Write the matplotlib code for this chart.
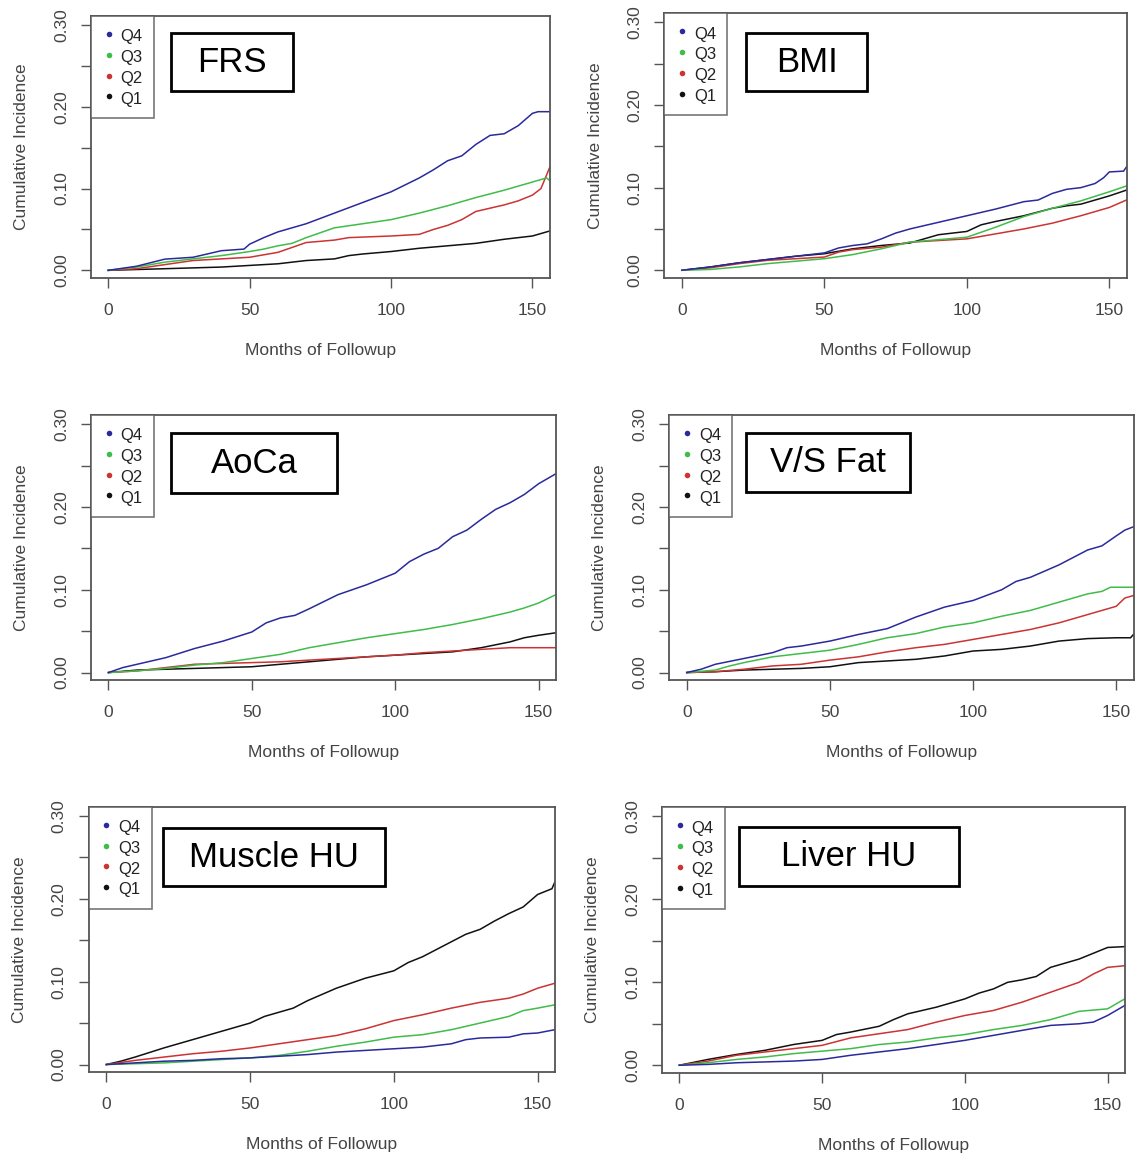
import matplotlib
matplotlib.use("Agg")
import matplotlib.pyplot as plt
from matplotlib.lines import Line2D
from matplotlib.patches import Rectangle

plt.rcParams['font.family'] = ['Liberation Sans', 'DejaVu Sans']

# ---------------- data (months, cumulative incidence) ----------------
FRS_Q4_T = [0, 10, 20, 30, 40, 48, 50, 55, 60, 70, 80, 90, 100, 110, 115, 120, 125, 130, 135, 140, 145, 150, 152, 156]
FRS_Q4 = [0, 0.005, 0.0137, 0.016, 0.024, 0.026, 0.032, 0.04, 0.047, 0.057, 0.07, 0.083, 0.096, 0.113, 0.123, 0.134, 0.14, 0.154, 0.165, 0.167, 0.177, 0.192, 0.194, 0.194]
FRS_Q3_T = [0, 10, 20, 30, 40, 50, 55, 60, 65, 70, 75, 80, 90, 100, 110, 120, 130, 140, 150, 155, 156]
FRS_Q3 = [0, 0.004, 0.01, 0.014, 0.018, 0.023, 0.026, 0.03, 0.033, 0.04, 0.046, 0.052, 0.057, 0.062, 0.07, 0.079, 0.089, 0.098, 0.108, 0.113, 0.11]
FRS_Q2_T = [0, 10, 20, 30, 40, 50, 60, 65, 70, 80, 85, 100, 110, 115, 120, 125, 130, 135, 140, 145, 150, 153, 156]
FRS_Q2 = [0, 0.002, 0.007, 0.012, 0.014, 0.016, 0.022, 0.028, 0.034, 0.037, 0.04, 0.042, 0.044, 0.05, 0.055, 0.062, 0.072, 0.076, 0.08, 0.085, 0.092, 0.1, 0.125]
FRS_Q1_T = [0, 10, 20, 30, 40, 50, 60, 70, 80, 85, 90, 100, 110, 120, 130, 140, 150, 156]
FRS_Q1 = [0, 0.001, 0.002, 0.003, 0.004, 0.006, 0.008, 0.012, 0.014, 0.018, 0.02, 0.023, 0.027, 0.03, 0.033, 0.038, 0.042, 0.048]

BMI_Q4_T = [0, 10, 20, 30, 40, 50, 55, 60, 65, 70, 75, 80, 90, 100, 110, 120, 125, 130, 135, 140, 145, 148, 150, 155, 156]
BMI_Q4 = [0, 0.004, 0.009, 0.013, 0.017, 0.021, 0.027, 0.03, 0.032, 0.038, 0.045, 0.05, 0.058, 0.066, 0.074, 0.083, 0.085, 0.093, 0.098, 0.1, 0.105, 0.112, 0.119, 0.12, 0.125]
BMI_Q3_T = [0, 10, 20, 30, 40, 50, 60, 70, 80, 90, 100, 110, 120, 130, 140, 150, 156]
BMI_Q3 = [0, 0.001, 0.004, 0.008, 0.011, 0.014, 0.019, 0.026, 0.034, 0.037, 0.04, 0.052, 0.065, 0.075, 0.084, 0.095, 0.102]
BMI_Q2_T = [0, 10, 20, 30, 40, 50, 55, 60, 70, 80, 90, 100, 110, 120, 130, 140, 150, 156]
BMI_Q2 = [0, 0.003, 0.008, 0.012, 0.014, 0.016, 0.022, 0.025, 0.028, 0.034, 0.036, 0.038, 0.044, 0.05, 0.057, 0.066, 0.076, 0.085]
BMI_Q1_T = [0, 10, 20, 30, 40, 50, 55, 60, 65, 70, 80, 85, 90, 100, 105, 110, 120, 130, 135, 140, 150, 156]
BMI_Q1 = [0, 0.004, 0.009, 0.013, 0.017, 0.02, 0.023, 0.026, 0.028, 0.03, 0.033, 0.038, 0.043, 0.047, 0.055, 0.059, 0.066, 0.075, 0.078, 0.08, 0.09, 0.097]

AOCA_Q4_T = [0, 5, 10, 20, 30, 40, 50, 55, 60, 65, 70, 80, 90, 100, 105, 110, 115, 120, 125, 130, 135, 140, 145, 150, 156]
AOCA_Q4 = [0, 0.006, 0.01, 0.018, 0.029, 0.038, 0.049, 0.06, 0.066, 0.069, 0.077, 0.094, 0.106, 0.12, 0.134, 0.143, 0.15, 0.164, 0.172, 0.185, 0.197, 0.205, 0.215, 0.228, 0.24]
AOCA_Q3_T = [0, 10, 20, 30, 40, 50, 60, 70, 80, 90, 100, 110, 120, 130, 140, 145, 150, 156]
AOCA_Q3 = [0, 0.002, 0.005, 0.009, 0.012, 0.017, 0.022, 0.03, 0.036, 0.042, 0.047, 0.052, 0.058, 0.065, 0.073, 0.078, 0.084, 0.094]
AOCA_Q2_T = [0, 10, 20, 30, 40, 50, 60, 70, 80, 90, 100, 110, 120, 130, 140, 156]
AOCA_Q2 = [0, 0.002, 0.006, 0.01, 0.011, 0.012, 0.013, 0.015, 0.017, 0.019, 0.021, 0.024, 0.026, 0.028, 0.03, 0.03]
AOCA_Q1_T = [0, 10, 20, 30, 40, 50, 60, 70, 80, 90, 100, 110, 120, 130, 140, 145, 150, 156]
AOCA_Q1 = [0, 0.003, 0.004, 0.005, 0.006, 0.007, 0.01, 0.013, 0.016, 0.019, 0.021, 0.023, 0.025, 0.03, 0.037, 0.042, 0.045, 0.048]

VSF_Q4_T = [0, 5, 10, 20, 30, 35, 40, 50, 60, 70, 80, 90, 100, 110, 115, 120, 130, 140, 145, 150, 153, 156]
VSF_Q4 = [0, 0.004, 0.01, 0.017, 0.024, 0.03, 0.032, 0.038, 0.046, 0.053, 0.067, 0.079, 0.087, 0.1, 0.11, 0.115, 0.13, 0.148, 0.153, 0.165, 0.172, 0.176]
VSF_Q3_T = [0, 10, 15, 20, 30, 40, 50, 60, 70, 80, 90, 100, 110, 120, 130, 140, 145, 148, 156]
VSF_Q3 = [0, 0.003, 0.008, 0.012, 0.019, 0.023, 0.027, 0.034, 0.042, 0.047, 0.055, 0.06, 0.068, 0.075, 0.085, 0.095, 0.098, 0.103, 0.103]
VSF_Q2_T = [0, 10, 20, 30, 40, 50, 60, 70, 80, 90, 100, 110, 120, 130, 140, 145, 150, 153, 156]
VSF_Q2 = [0, 0.001, 0.004, 0.008, 0.01, 0.015, 0.019, 0.025, 0.03, 0.034, 0.04, 0.046, 0.052, 0.06, 0.07, 0.075, 0.08, 0.09, 0.093]
VSF_Q1_T = [0, 10, 20, 30, 40, 50, 60, 70, 80, 90, 100, 110, 120, 130, 140, 150, 155, 156]
VSF_Q1 = [0, 0.001, 0.003, 0.004, 0.005, 0.007, 0.012, 0.014, 0.016, 0.02, 0.026, 0.028, 0.032, 0.038, 0.041, 0.042, 0.042, 0.046]

MUS_Q4_T = [0, 10, 20, 30, 40, 50, 60, 70, 80, 90, 100, 110, 120, 125, 130, 140, 145, 150, 156]
MUS_Q4 = [0, 0.002, 0.004, 0.005, 0.007, 0.008, 0.01, 0.012, 0.015, 0.017, 0.019, 0.021, 0.025, 0.03, 0.032, 0.033, 0.037, 0.038, 0.042]
MUS_Q3_T = [0, 10, 20, 30, 40, 50, 60, 70, 80, 90, 100, 110, 120, 130, 140, 145, 150, 156]
MUS_Q3 = [0, 0.001, 0.002, 0.004, 0.006, 0.008, 0.011, 0.016, 0.022, 0.027, 0.033, 0.036, 0.042, 0.05, 0.058, 0.065, 0.068, 0.072]
MUS_Q2_T = [0, 10, 20, 30, 40, 50, 60, 70, 80, 90, 100, 110, 120, 130, 140, 145, 150, 156]
MUS_Q2 = [0, 0.005, 0.009, 0.013, 0.016, 0.02, 0.025, 0.03, 0.035, 0.043, 0.053, 0.06, 0.068, 0.075, 0.08, 0.085, 0.092, 0.098]
MUS_Q1_T = [0, 5, 10, 20, 30, 40, 50, 55, 60, 65, 70, 80, 90, 100, 105, 110, 120, 125, 130, 135, 140, 145, 150, 155, 156]
MUS_Q1 = [0, 0.004, 0.009, 0.02, 0.03, 0.04, 0.05, 0.058, 0.063, 0.068, 0.077, 0.092, 0.104, 0.113, 0.123, 0.13, 0.148, 0.157, 0.163, 0.173, 0.182, 0.19, 0.205, 0.212, 0.22]

LIV_Q4_T = [0, 10, 20, 30, 40, 50, 60, 70, 80, 90, 100, 110, 120, 130, 140, 145, 150, 156]
LIV_Q4 = [0, 0.001, 0.003, 0.004, 0.005, 0.007, 0.012, 0.016, 0.02, 0.025, 0.03, 0.036, 0.042, 0.048, 0.05, 0.052, 0.06, 0.072]
LIV_Q3_T = [0, 10, 20, 30, 40, 50, 60, 70, 80, 90, 100, 110, 120, 130, 140, 150, 156]
LIV_Q3 = [0, 0.003, 0.007, 0.01, 0.014, 0.017, 0.02, 0.025, 0.028, 0.033, 0.037, 0.043, 0.048, 0.055, 0.065, 0.068, 0.08]
LIV_Q2_T = [0, 10, 20, 30, 40, 50, 60, 70, 80, 90, 100, 110, 120, 130, 140, 145, 150, 156]
LIV_Q2 = [0, 0.005, 0.012, 0.016, 0.02, 0.024, 0.033, 0.038, 0.043, 0.052, 0.06, 0.066, 0.076, 0.088, 0.1, 0.11, 0.118, 0.12]
LIV_Q1_T = [0, 10, 20, 30, 40, 50, 55, 60, 70, 75, 80, 90, 100, 105, 110, 115, 120, 125, 130, 140, 145, 150, 156]
LIV_Q1 = [0, 0.007, 0.013, 0.018, 0.025, 0.03, 0.037, 0.04, 0.047, 0.055, 0.062, 0.07, 0.08, 0.087, 0.092, 0.1, 0.103, 0.107, 0.118, 0.128, 0.135, 0.142, 0.143]

PANEL_TITLES = ["FRS", "BMI", "AoCa", "V/S Fat", "Muscle HU", "Liver HU"]
SERIES_LABELS = ["Q4", "Q3", "Q2", "Q1"]
X_TICKS = [0, 50, 100, 150]
Y_TICKS = [0.00, 0.05, 0.10, 0.15, 0.20, 0.25, 0.30]
Y_TICK_LABELS = ["0.00", "", "0.10", "", "0.20", "", "0.30"]

PANEL_DATA = [
    [(FRS_Q1_T, FRS_Q1), (FRS_Q2_T, FRS_Q2), (FRS_Q3_T, FRS_Q3), (FRS_Q4_T, FRS_Q4)],
    [(BMI_Q1_T, BMI_Q1), (BMI_Q2_T, BMI_Q2), (BMI_Q3_T, BMI_Q3), (BMI_Q4_T, BMI_Q4)],
    [(AOCA_Q1_T, AOCA_Q1), (AOCA_Q2_T, AOCA_Q2), (AOCA_Q3_T, AOCA_Q3), (AOCA_Q4_T, AOCA_Q4)],
    [(VSF_Q1_T, VSF_Q1), (VSF_Q2_T, VSF_Q2), (VSF_Q3_T, VSF_Q3), (VSF_Q4_T, VSF_Q4)],
    [(MUS_Q1_T, MUS_Q1), (MUS_Q2_T, MUS_Q2), (MUS_Q3_T, MUS_Q3), (MUS_Q4_T, MUS_Q4)],
    [(LIV_Q1_T, LIV_Q1), (LIV_Q2_T, LIV_Q2), (LIV_Q3_T, LIV_Q3), (LIV_Q4_T, LIV_Q4)],
]

# ---------------- style / layout ----------------
COLORS = {"Q1": "#111111", "Q2": "#cc3333", "Q3": "#40bc4a", "Q4": "#2a2a9c"}
GRAY = "#555555"
TXT = "#444444"
W, H = 1137, 1157

# axes boxes in pixels: (left, top, right, bottom)
AX_BOXES = [
    (90.7, 16.0, 550.0, 277.7),
    (664.3, 13.3, 1127.0, 277.7),
    (90.7, 415.0, 556.4, 680.0),
    (669.0, 415.0, 1134.0, 680.0),
    (88.5, 806.6, 555.4, 1072.0),
    (661.7, 807.3, 1125.3, 1072.7),
]
# title boxes in pixels: (left, top, right, bottom)
TITLE_BOXES = [
    (171.3, 33.3, 293.1, 90.8),
    (746.3, 33.3, 866.8, 91.0),
    (171.3, 433.3, 336.9, 493.0),
    (746.3, 433.3, 910.3, 492.3),
    (163.4, 828.2, 385.2, 886.4),
    (738.7, 826.7, 959.3, 885.7),
]

fig = plt.figure(figsize=(W / 100, H / 100), dpi=100)
fig.patch.set_facecolor("white")

for i in range(6):
    l, t, r, b = AX_BOXES[i]
    ax = fig.add_axes([l / W, 1 - b / H, (r - l) / W, (b - t) / H])
    wpx, hpx = r - l, b - t
    for (tt, vv), lab in zip(PANEL_DATA[i], ["Q1", "Q2", "Q3", "Q4"]):
        ax.plot(tt, vv, color=COLORS[lab], lw=1.1, solid_joinstyle="miter")
    ax.set_xlim(-6.2, 156.2)
    ax.set_ylim(-0.009, 0.311)
    ax.set_xticks(X_TICKS)
    ax.set_xticklabels([str(v) for v in X_TICKS])
    ax.set_yticks(Y_TICKS)
    ax.set_yticklabels(Y_TICK_LABELS, rotation=90, va="center")
    ax.tick_params(axis="both", direction="out", length=7.2, width=1.0,
                   color=GRAY, labelcolor=TXT, labelsize=12.5)
    ax.tick_params(axis="x", pad=11)
    ax.tick_params(axis="y", pad=8.5)
    for sp in ax.spines.values():
        sp.set_color(GRAY)
        sp.set_linewidth(1.3)
    ax.set_xlabel("Months of Followup", fontsize=12.5, color=TXT, va="center")
    ax.xaxis.set_label_coords(0.5, -73 / hpx)
    ax.set_ylabel("Cumulative Incidence", fontsize=12.5, color=TXT, va="center")
    ax.yaxis.set_label_coords(-69 / wpx, 0.5)

    handles = [Line2D([], [], marker="o", ls="none", ms=4, color=COLORS[s],
                      markeredgewidth=0) for s in SERIES_LABELS]
    leg = ax.legend(handles, SERIES_LABELS, loc="upper left", bbox_to_anchor=(0, 1),
                    borderaxespad=0, fontsize=12, frameon=True, fancybox=False,
                    handlelength=0.85, handleheight=1.28, handletextpad=0.3,
                    borderpad=0.65, labelspacing=0.17, labelcolor="#222222")
    leg.get_frame().set_edgecolor(GRAY)
    leg.get_frame().set_linewidth(1.2)

    # title box
    tl, ttop, tr, tb = TITLE_BOXES[i]
    fig.patches.append(Rectangle((tl / W, 1 - tb / H), (tr - tl) / W, (tb - ttop) / H,
                                 transform=fig.transFigure, fill=False,
                                 edgecolor="black", linewidth=2.0))
    fig.text((tl + tr) / 2 / W, 1 - (ttop + tb) / 2 / H, PANEL_TITLES[i],
             ha="center", va="center", fontsize=25, color="black")

fig.savefig("out.png", dpi=100)
